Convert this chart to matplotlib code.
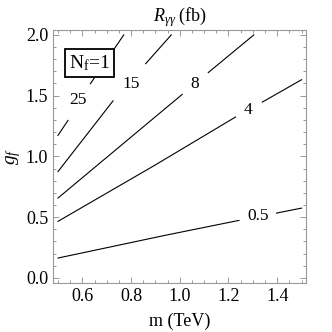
import matplotlib
matplotlib.use('Agg')
import matplotlib.pyplot as plt
from matplotlib.ticker import MultipleLocator
import numpy as np

plt.rcParams['font.family'] = 'Liberation Serif'
plt.rcParams['mathtext.fontset'] = 'custom'
plt.rcParams['mathtext.rm'] = 'Liberation Serif'
plt.rcParams['mathtext.it'] = 'Liberation Serif:italic'

nan = np.nan

# contour lines of R_gg (fb); nan = gap left for the label
c05_m = [0.50, 0.94, 1.243, nan, 1.397, 1.50]
c05_g = [0.163, 0.35, 0.473, nan, 0.533, 0.574]
c4_m = [0.50, 0.90, 1.229, nan, 1.339, 1.50]
c4_g = [0.465, 0.93, 1.324, nan, 1.447, 1.631]
c8_m = [0.50, 0.944, 1.01, nan, 1.117, 1.304]
c8_g = [0.657, 1.40, 1.51, nan, 1.69, 2.0]
c15_m = [0.50, 0.726, nan, 0.86, 0.965]
c15_g = [0.875, 1.457, nan, 1.763, 2.0]
c25_m = [0.50, 0.541, nan, 0.633, 0.77]
c25_g = [1.173, 1.296, nan, 1.598, 2.0]

levels = ['0.5', '4', '8', '15', '25']
label_m = [1.322, 1.281, 1.062, 0.80, 0.582]
label_g = [0.506, 1.379, 1.598, 1.598, 1.461]

fig = plt.figure(figsize=(3.32, 3.32), dpi=100)
ax = fig.add_axes([0.16, 0.1485, 0.763, 0.761])

for xs, ys in [(c05_m, c05_g), (c4_m, c4_g), (c8_m, c8_g), (c15_m, c15_g), (c25_m, c25_g)]:
    ax.plot(xs, ys, color='black', lw=0.8)

for lab, x, y in zip(levels, label_m, label_g):
    ax.text(x, y, lab, ha='center', va='center', fontsize=12.5)

ax.text(0.628, 1.77, r'N$_{\mathrm{f}}$=1', ha='center', va='center', fontsize=14,
        bbox=dict(boxstyle='square,pad=0.2', fc='white', ec='black', lw=1.3), zorder=5)

ax.set_xlim(0.48, 1.52)
ax.set_ylim(-0.04, 2.04)
ax.xaxis.set_major_locator(MultipleLocator(0.2))
ax.xaxis.set_minor_locator(MultipleLocator(0.05))
ax.yaxis.set_major_locator(MultipleLocator(0.5))
ax.yaxis.set_minor_locator(MultipleLocator(0.1))
ax.set_xticks([0.6, 0.8, 1.0, 1.2, 1.4])
ax.tick_params(which='both', direction='in', top=True, right=True, color='#999999',
               labelsize=13, width=0.7)
ax.tick_params(which='major', length=4.5)
ax.tick_params(which='minor', length=2.5)
ax.set_yticks([0.0, 0.5, 1.0, 1.5, 2.0])
ax.set_yticklabels(['0.0', '0.5', '1.0', '1.5', '2.0'])
for s in ax.spines.values():
    s.set_color('#999999')
    s.set_linewidth(0.8)

ax.set_xlabel('m (TeV)', fontsize=13, labelpad=6)
ax.set_ylabel(r'$g_f$', fontsize=14, labelpad=2)
ax.set_title(r'$R_{\gamma\gamma}$ (fb)', fontsize=13, pad=6)

fig.savefig('out.png', dpi=100)
